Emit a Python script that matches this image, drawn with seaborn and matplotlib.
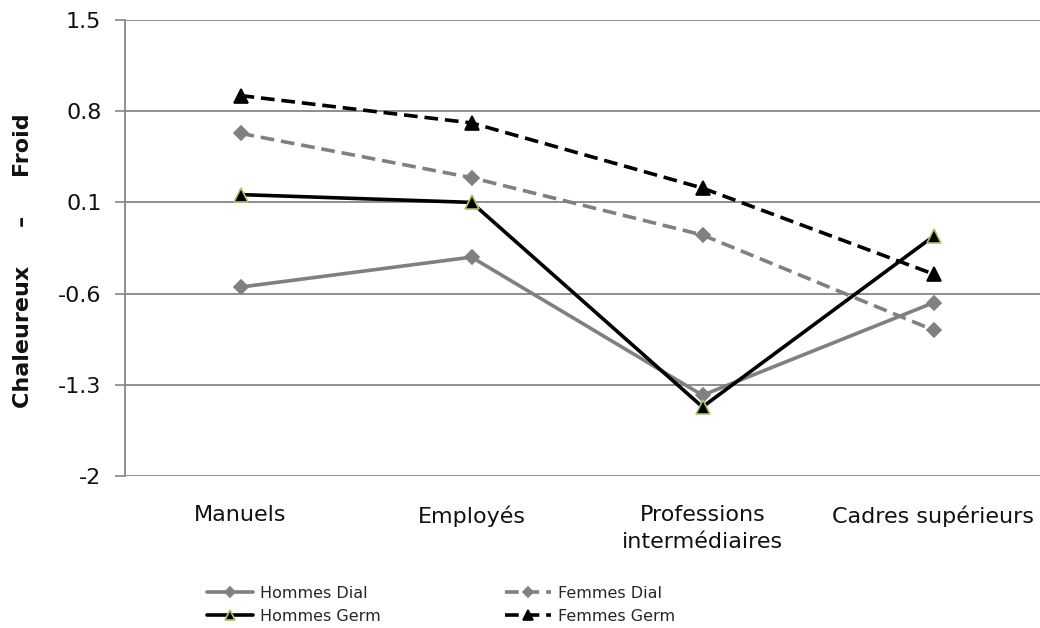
import matplotlib
matplotlib.use("Agg")
import matplotlib.pyplot as plt
import seaborn as sns
import pandas as pd

# Categories and mean scores per group
categories = ["Manuels", "Employés", "Professions\nintermédiaires", "Cadres supérieurs"]
hommes_dial = [-0.55, -0.32, -1.38, -0.67]
femmes_dial = [0.63, 0.29, -0.15, -0.88]
hommes_germ = [0.16, 0.10, -1.47, -0.16]
femmes_germ = [0.92, 0.71, 0.21, -0.45]
y_ticks = [-2, -1.3, -0.6, 0.1, 0.8, 1.5]

sns.set_theme(style="white")
plt.rcParams["font.family"] = ["DejaVu Sans"]

fig = plt.figure(figsize=(10.4, 6.28), dpi=100)
ax = fig.add_axes([125 / 1040, 1 - 476 / 628, 924 / 1040, 456 / 628])

GREY = "#808080"
BLACK = "#000000"

series = [
    ("Hommes Dial", hommes_dial, GREY, "-", "D", GREY, GREY, 7.5),
    ("Femmes Dial", femmes_dial, GREY, "--", "D", GREY, GREY, 7.5),
    ("Hommes Germ", hommes_germ, BLACK, "-", "^", BLACK, "#a9c46c", 10),
    ("Femmes Germ", femmes_germ, BLACK, "--", "^", BLACK, BLACK, 10),
]

x_pos = list(range(len(categories)))
handles = {}
for name, vals, color, ls, mk, mfc, mec, ms in series:
    df = pd.DataFrame({"x": x_pos, "y": vals})
    sns.lineplot(data=df, x="x", y="y", ax=ax, color=color, marker=mk,
                 markersize=ms, markerfacecolor=mfc, markeredgecolor=mec,
                 markeredgewidth=1.2, linewidth=2.6, label=name, zorder=3)
    line = ax.lines[-1]
    if ls == "--":
        line.set_dashes((3.8, 1.9))
    handles[name] = line

ax.set_xlim(-0.5, 3.5)
ax.set_ylim(-2, 1.5)
ax.set_xticks(x_pos)
ax.set_xticklabels(categories, fontsize=16, color="#111111", linespacing=1.45)
ax.set_yticks(y_ticks)
ax.set_yticklabels([f"{v:g}" for v in y_ticks], fontsize=16, color="#111111")
ax.tick_params(axis="y", length=7, width=1.2, color="#868686", pad=10, left=True)
ax.tick_params(axis="x", length=0, pad=21)
ax.grid(axis="y", color="#868686", linewidth=1.3)
ax.set_axisbelow(True)
for side in ["top", "right", "bottom"]:
    ax.spines[side].set_visible(False)
ax.spines["left"].set_color("#868686")
ax.spines["left"].set_linewidth(1.3)
ax.set_xlabel("")
ax.set_ylabel("")

fig.text(23 / 1040, 1 - 261 / 628, "Chaleureux     –     Froid", rotation=90,
         ha="center", va="center", fontsize=16, fontweight="bold", color="#111111")

ax.get_legend().remove()
order = ["Hommes Dial", "Hommes Germ", "Femmes Dial", "Femmes Germ"]
fig.legend([handles[k] for k in order], order, ncol=2, frameon=False,
           loc="center", bbox_to_anchor=(441 / 1040, 1 - 605 / 628),
           fontsize=11.5, handlelength=2.9, columnspacing=7.8,
           labelspacing=0.5, handletextpad=0.4, markerscale=0.7)

fig.savefig("out.png", dpi=100)
